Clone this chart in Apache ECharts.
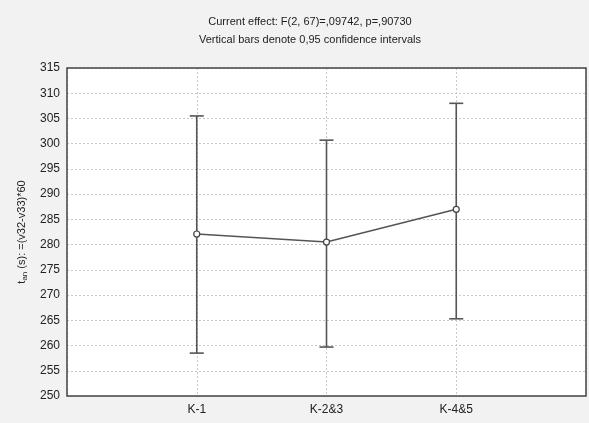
<!DOCTYPE html>
<html><head><meta charset="utf-8">
<script src="https://cdn.jsdelivr.net/npm/echarts@6/dist/echarts.min.js"></script>
<style>html,body{margin:0;padding:0;background:#f2f2f2}#c{width:589px;height:423px}</style>
</head><body><div id="c"></div>
<script>
const categories = ['K-1', 'K-2&3', 'K-4&5'];
const means = [282.1, 280.5, 287.0];
const upper = [305.5, 300.7, 308.0];
const lower = [258.5, 259.7, 265.3];
const titleLines = ['Current effect: F(2, 67)=,09742, p=,90730', 'Vertical bars denote 0,95 confidence intervals'];

const W = 589, H = 423;
const G = {left: 67, right: 3, top: 68, bottom: 27};
const chart = echarts.init(document.getElementById('c'));
const pos = categories.map((c, i) => i + 1);
chart.setOption({
  backgroundColor: '#f2f2f2',
  animation: false,
  title: {
    text: titleLines.join('\n'),
    left: 305, top: 8, textAlign: 'center',
    textStyle: {fontFamily: 'Liberation Sans', fontSize: 11, fontWeight: 'normal', color: '#222', lineHeight: 18}
  },
  grid: Object.assign({show: true, backgroundColor: '#fff', borderWidth: 0}, G),
  graphic: [{
    type: 'rect', z: 100, silent: true,
    shape: {x: G.left, y: G.top, width: W - G.left - G.right, height: H - G.top - G.bottom},
    style: {fill: null, stroke: '#444', lineWidth: 1.5}
  }],
  xAxis: {
    type: 'value', min: 0, max: 4, interval: 1,
    axisLine: {show: false}, axisTick: {show: false},
    axisLabel: {formatter: v => (v >= 1 && v <= categories.length) ? categories[v - 1] : '', color: '#222', fontFamily: 'Liberation Sans', fontSize: 12, margin: 8},
    splitLine: {show: true, lineStyle: {color: '#c8c8c8', type: [2, 2], width: 1}}
  },
  yAxis: {
    type: 'value', min: 250, max: 315, interval: 5,
    name: '{t|t}{s|an} (s): =(v32-v33)*60', nameLocation: 'middle', nameGap: 36,
    nameTextStyle: {rich: {t: {fontFamily: 'Liberation Sans', fontSize: 11, color: '#222'}, s: {fontFamily: 'Liberation Sans', fontSize: 8, color: '#222', verticalAlign: 'bottom', padding: [6, 0, 0, 0]}}, fontFamily: 'Liberation Sans', fontSize: 11, color: '#222'},
    axisLine: {show: false}, axisTick: {show: false},
    axisLabel: {color: '#222', fontFamily: 'Liberation Sans', fontSize: 12, margin: 7},
    splitLine: {show: true, lineStyle: {color: '#c8c8c8', type: [2, 2], width: 1}}
  },
  series: [
    {
      type: 'custom',
      data: pos.map((p, i) => [p, lower[i], upper[i]]),
      renderItem: function (params, api) {
        const x = api.value(0);
        const lo = api.coord([x, api.value(1)]);
        const hi = api.coord([x, api.value(2)]);
        const w = 7;
        const style = {stroke: '#555', lineWidth: 1.6, fill: null};
        return {type: 'group', children: [
          {type: 'line', shape: {x1: lo[0], y1: lo[1], x2: hi[0], y2: hi[1]}, style},
          {type: 'line', shape: {x1: hi[0] - w, y1: hi[1], x2: hi[0] + w, y2: hi[1]}, style},
          {type: 'line', shape: {x1: lo[0] - w, y1: lo[1], x2: lo[0] + w, y2: lo[1]}, style}
        ]};
      },
      z: 2
    },
    {
      type: 'line',
      data: pos.map((p, i) => [p, means[i]]),
      symbol: 'circle', symbolSize: 6,
      itemStyle: {color: '#fff', borderColor: '#444', borderWidth: 1.2},
      lineStyle: {color: '#555', width: 1.5},
      z: 3
    }
  ]
});
</script></body></html>
